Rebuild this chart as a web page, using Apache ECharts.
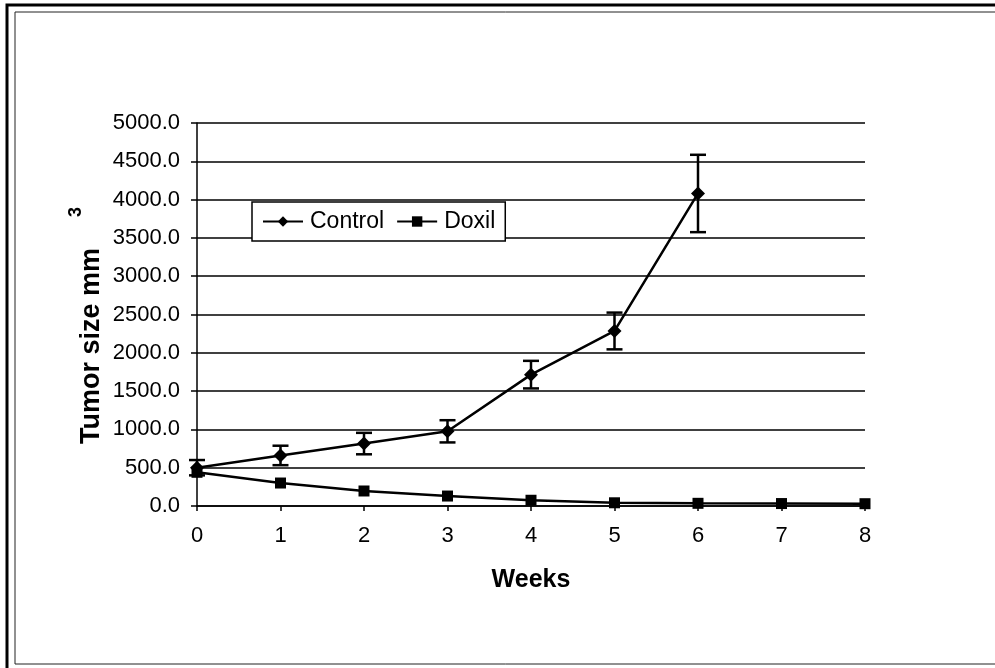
<!DOCTYPE html>
<html>
<head>
<meta charset="utf-8">
<script src="https://cdn.jsdelivr.net/npm/echarts@6/dist/echarts.min.js"></script>
<style>
  html, body { margin: 0; padding: 0; background: #fff; }
  #chart { width: 995px; height: 668px; }
</style>
</head>
<body>
<div id="chart"></div>
<script>
// 数据
const weeks = [0, 1, 2, 3, 4, 5, 6, 7, 8];
const controlWeeks = [0, 1, 2, 3, 4, 5, 6];
const controlMean = [500, 660, 815, 975, 1715, 2285, 4080];
const controlErr = [100, 127, 140, 145, 180, 240, 505];
const doxilMean = [440, 300, 196, 130, 75, 42, 35, 32, 30];
const yTicks = [0, 500, 1000, 1500, 2000, 2500, 3000, 3500, 4000, 4500, 5000];

const FONT = "'Liberation Sans', Arial, sans-serif";

const chart = echarts.init(document.getElementById("chart"), null, { renderer: "canvas" });

// 误差线
const errData = controlWeeks.map((w, i) => [w, controlMean[i] - controlErr[i], controlMean[i] + controlErr[i]]);

const renderErr = (params, api) => {
  const lo = api.coord([api.value(0), api.value(1)]);
  const hi = api.coord([api.value(0), api.value(2)]);
  const cap = 8;
  const style = { stroke: "#000", lineWidth: 2.5 };
  return {
    type: "group",
    children: [
      { type: "line", shape: { x1: lo[0], y1: lo[1], x2: hi[0], y2: hi[1] }, style },
      { type: "line", shape: { x1: lo[0] - cap, y1: lo[1], x2: lo[0] + cap, y2: lo[1] }, style },
      { type: "line", shape: { x1: hi[0] - cap, y1: hi[1], x2: hi[0] + cap, y2: hi[1] }, style },
    ],
  };
};

const options = {
  animation: false,
  backgroundColor: "#fff",
  grid: {
    left: 197,
    right: 130,
    top: 123,
    bottom: 162,
    show: false,
  },
  legend: {
    left: 252,
    top: 202,
    padding: [8, 10, 8, 10],
    backgroundColor: "#fff",
    borderColor: "#000",
    borderWidth: 1.5,
    borderRadius: 0,
    itemWidth: 40,
    itemHeight: 13,
    itemGap: 12,
    data: ["Control", "Doxil"],
    textStyle: { fontFamily: FONT, fontSize: 23, color: "#000", padding: [0, 0, 0, 2] },
  },
  xAxis: {
    type: "value",
    min: 0,
    max: 8,
    interval: 1,
    name: "Weeks",
    nameLocation: "middle",
    nameGap: 62,
    nameTextStyle: { fontFamily: FONT, fontSize: 25, fontWeight: "bold", color: "#000" },
    axisLine: { lineStyle: { color: "#000", width: 1.5 } },
    axisTick: { show: true, length: 5, lineStyle: { color: "#000", width: 1.5 } },
    axisLabel: { fontFamily: FONT, fontSize: 22, color: "#000", margin: 19 },
    splitLine: { show: false },
  },
  yAxis: {
    type: "value",
    min: yTicks[0],
    max: yTicks[yTicks.length - 1],
    interval: 500,
    axisLine: { show: true, lineStyle: { color: "#000", width: 1.5 } },
    axisTick: { show: true, length: 6, lineStyle: { color: "#000", width: 1.5 } },
    axisLabel: {
      fontFamily: FONT,
      fontSize: 22,
      color: "#000",
      margin: 17,
      formatter: (v) => v.toFixed(1),
    },
    splitLine: { show: true, lineStyle: { color: "#000", width: 1.5 } },
  },
  graphic: [
    // 外框
    { type: "rect", shape: { x: 7, y: 5, width: 1000, height: 700 }, style: { fill: null, stroke: "#000", lineWidth: 3 }, silent: true },
    { type: "rect", shape: { x: 15, y: 12, width: 1000, height: 652 }, style: { fill: null, stroke: "#222", lineWidth: 1 }, silent: true },
    // Y 轴标题
    {
      type: "text",
      x: 92,
      y: 346,
      rotation: Math.PI / 2,
      style: {
        text: "Tumor size mm",
        fontFamily: FONT,
        fontSize: 27,
        fontWeight: "bold",
        fill: "#000",
        align: "center",
        verticalAlign: "middle",
      },
    },
    {
      type: "text",
      x: 76,
      y: 212,
      rotation: Math.PI / 2,
      style: {
        text: "3",
        fontFamily: FONT,
        fontSize: 18,
        fontWeight: "bold",
        fill: "#000",
        align: "center",
        verticalAlign: "middle",
      },
    },
  ],
  series: [
    {
      name: "Control",
      type: "line",
      data: controlWeeks.map((w, i) => [w, controlMean[i]]),
      symbol: "diamond",
      symbolSize: 14,
      itemStyle: { color: "#000" },
      lineStyle: { color: "#000", width: 2.5 },
      z: 3,
    },
    {
      name: "Doxil",
      type: "line",
      data: weeks.map((w, i) => [w, doxilMean[i]]),
      symbol: "rect",
      symbolSize: 11,
      itemStyle: { color: "#000" },
      lineStyle: { color: "#000", width: 2.5 },
      z: 3,
    },
    {
      name: "ControlErr",
      type: "custom",
      renderItem: renderErr,
      data: errData,
      encode: { x: 0, y: [1, 2] },
      z: 4,
    },
  ],
};

chart.setOption(options);
</script>
</body>
</html>
